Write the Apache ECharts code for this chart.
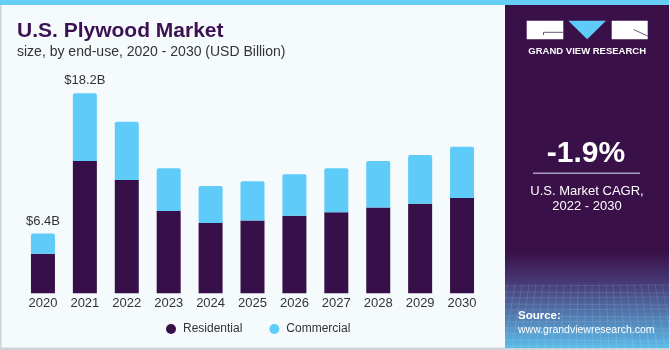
<!DOCTYPE html>
<html>
<head>
<meta charset="utf-8">
<script src="https://cdn.jsdelivr.net/npm/echarts@6/dist/echarts.min.js"></script>
<style>
  html, body { margin: 0; padding: 0; }
  #chart { width: 670px; height: 350px; }
</style>
</head>
<body>
<div id="chart"></div>
<script>
const years = ["2020", "2021", "2022", "2023", "2024", "2025", "2026", "2027", "2028", "2029", "2030"];
const residential = [4.7, 12.5, 10.9, 8.3, 7.3, 7.5, 7.9, 8.2, 8.6, 8.9, 9.4];
const commercial = [1.7, 5.7, 4.9, 3.6, 3.1, 3.3, 3.5, 3.7, 3.9, 4.1, 4.3];
const labeledYears = ["2020", "2021"];
const cagrText = "-1.9%";

const font = "Liberation Sans, Arial, sans-serif";
const purple = "#381049";
const blue = "#5ecbf8";

const eChart = echarts.init(document.getElementById("chart"));

// stack total on top of the commercial part, only for the labeled years
let commercialData = commercial.map((v, i) => {
  return {
    value: v,
    label: { show: labeledYears.indexOf(years[i]) > -1 }
  };
});

// faint mesh in the source box
let mesh = [];
for (let k = 0; k < 11; k++) {
  let y = 286 + k * 6;
  mesh.push({ type: "line", shape: { x1: 505, y1: y, x2: 669, y2: y + (k % 2 ? 1 : -1) },
    style: { stroke: "rgba(255,255,255,0.10)", lineWidth: 1 }, silent: true });
}
for (let k = 0; k < 24; k++) {
  let x = 508 + k * 7;
  mesh.push({ type: "line", shape: { x1: x, y1: 284, x2: x + (x - 587) * 0.15, y2: 348 },
    style: { stroke: "rgba(255,255,255,0.10)", lineWidth: 1 }, silent: true });
}

let ChartOption = {
  backgroundColor: "#f5fafd",
  title: {
    text: "U.S. Plywood Market",
    subtext: "size, by end-use, 2020 - 2030 (USD Billion)",
    left: 12,
    top: 16,
    itemGap: 3,
    textStyle: { fontFamily: font, fontSize: 21, fontWeight: "bold", color: "#3b1152" },
    subtextStyle: { fontFamily: font, fontSize: 14, color: "#333333" }
  },
  grid: {
    left: 22,
    right: 187,
    top: 40,
    bottom: 56.7
  },
  legend: {
    data: ["Residential", "Commercial"],
    icon: "circle",
    itemWidth: 10,
    itemHeight: 10,
    itemGap: 27,
    left: 161,
    top: 318,
    textStyle: { fontFamily: font, fontSize: 12, color: "#333333", padding: [0, 0, 0, 2] }
  },
  xAxis: {
    type: "category",
    data: years,
    axisLine: { show: false },
    axisTick: { show: false },
    axisLabel: { margin: 4, fontFamily: font, fontSize: 13, color: "#333333" }
  },
  yAxis: {
    type: "value",
    min: 1.38,
    max: 22.68,
    show: false,
    splitLine: { show: false }
  },
  series: [
    {
      name: "Residential",
      type: "bar",
      stack: "total",
      barWidth: 24,
      data: residential,
      itemStyle: { color: purple }
    },
    {
      name: "Commercial",
      type: "bar",
      stack: "total",
      barWidth: 24,
      data: commercialData,
      itemStyle: { color: blue, borderRadius: [2, 2, 0, 0] },
      label: {
        position: "top",
        distance: 6,
        fontFamily: font,
        fontSize: 13,
        color: "#333333",
        formatter: function(p) {
          return "$" + (residential[p.dataIndex] + commercial[p.dataIndex]).toFixed(1) + "B";
        }
      }
    }
  ],
  graphic: [
    { type: "rect", shape: { x: 0, y: 5, width: 1.5, height: 345 }, style: { fill: "#cfd4d8" }, silent: true },
    { type: "rect", shape: { x: 0, y: 347.5, width: 670, height: 2.5 }, style: { fill: "#cfd3d6" }, silent: true },
    { type: "rect", shape: { x: 0, y: 0, width: 670, height: 5 }, style: { fill: "#66cdf5" }, silent: true },
    {
      type: "rect",
      shape: { x: 505, y: 5, width: 164, height: 343 },
      style: {
        fill: new echarts.graphic.LinearGradient(0, 0, 0, 1, [
          { offset: 0, color: "#3a1048" },
          { offset: 0.72, color: "#3a1048" },
          { offset: 0.81, color: "#473a76" },
          { offset: 1, color: "#5bbbe9" }
        ])
      },
      silent: true
    },
    ...mesh,
    { type: "rect", shape: { x: 669, y: 0, width: 1, height: 350 }, style: { fill: "#dfe5ea" }, silent: true },
    // logo
    { type: "rect", shape: { x: 526.7, y: 20.7, width: 36.6, height: 18.6 }, style: { fill: "#ffffff" }, silent: true },
    { type: "polygon", shape: { points: [[568.3, 20.7], [606, 20.7], [587.2, 39.3]] }, style: { fill: blue }, silent: true },
    { type: "rect", shape: { x: 611.7, y: 20.7, width: 36, height: 18.6 }, style: { fill: "#ffffff" }, silent: true },
    { type: "polyline", shape: { points: [[543.5, 35], [543.5, 32.3], [563.3, 32.3]] }, style: { stroke: "#6a5a7a", lineWidth: 1, fill: null }, silent: true },
    { type: "polyline", shape: { points: [[633.5, 29.5], [647.7, 36]] }, style: { stroke: "#6a5a7a", lineWidth: 1, fill: null }, silent: true },
    {
      type: "text", x: 587.2, y: 51,
      style: { text: "GRAND VIEW RESEARCH", fill: "#ffffff", font: "bold 9.5px " + font, align: "center", verticalAlign: "middle" },
      silent: true
    },
    // CAGR box
    {
      type: "text", x: 586, y: 154,
      style: { text: cagrText, fill: "#ffffff", font: "bold 30px " + font, align: "center", verticalAlign: "middle" },
      silent: true
    },
    { type: "line", shape: { x1: 533, y1: 173.3, x2: 640, y2: 173.3 }, style: { stroke: "#a99cba", lineWidth: 1.5 }, silent: true },
    {
      type: "text", x: 587, y: 191.7,
      style: { text: "U.S. Market CAGR,", fill: "#ffffff", font: "13px " + font, align: "center", verticalAlign: "middle" },
      silent: true
    },
    {
      type: "text", x: 587, y: 206.7,
      style: { text: "2022 - 2030", fill: "#ffffff", font: "13px " + font, align: "center", verticalAlign: "middle" },
      silent: true
    },
    // source
    {
      type: "text", x: 518, y: 316,
      style: { text: "Source:", fill: "#ffffff", font: "bold 11.5px " + font, align: "left", verticalAlign: "middle" },
      silent: true
    },
    {
      type: "text", x: 518, y: 330,
      style: { text: "www.grandviewresearch.com", fill: "#ffffff", font: "10.5px " + font, align: "left", verticalAlign: "middle" },
      silent: true
    }
  ]
};

eChart.setOption(ChartOption, true);
</script>
</body>
</html>
